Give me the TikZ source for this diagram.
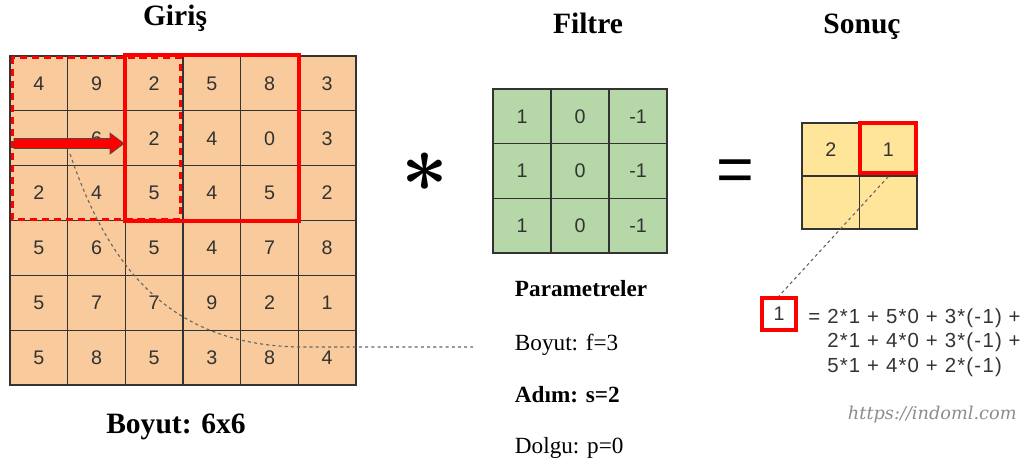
\documentclass[tikz,border=0pt]{standalone}
\usepackage{fontspec}
\setmainfont{Liberation Serif}
\newfontfamily\arial{Liberation Sans}
\newfontfamily\webfont{DejaVu Serif}
\usepackage{xcolor}
\usepackage{graphicx}
\usepackage{tikz}
\usetikzlibrary{positioning}

\definecolor{peach}{HTML}{F9CB9C}
\definecolor{leaf}{HTML}{B6D7A8}
\definecolor{sand}{HTML}{FFE599}
\definecolor{ink}{HTML}{333333}

\begin{document}
\begin{tikzpicture}[x=0.025cm,y=-0.025cm,
        cell/.style={draw=ink,line width=0.9pt,inner sep=0pt,text=ink,font=\arial\fontsize{14}{16}\selectfont},
        incell/.style={cell,fill=peach,minimum width=1.442cm,minimum height=1.37cm},
        fcell/.style={cell,fill=leaf,minimum width=1.45cm,minimum height=1.367cm},
        rcell/.style={cell,fill=sand,minimum width=1.437cm,minimum height=1.325cm},
        redline/.style={draw=red,line width=2.8pt},
        trail/.style={draw=black!60,line width=0.8pt,dash pattern=on 2.2pt off 2.2pt},
        title/.style={anchor=base,font=\fontsize{21}{24}\selectfont\bfseries},
        param/.style={anchor=base west,font=\fontsize{16.5}{19}\selectfont},
        eqn/.style={anchor=base west,text=ink,inner sep=0pt,
            font=\arial\fontsize{14.5}{16}\selectfont\addfontfeature{LetterSpace=6}}]
    \useasboundingbox (0,0) rectangle (1030,468);

    % input 6x6
    \foreach \row [count=\r] in {{4,9,2,5,8,3},{{},6,2,4,0,3},{2,4,5,4,5,2},{5,6,5,4,7,8},{5,7,7,9,2,1},{5,8,5,3,8,4}}
        \foreach \v [count=\c] in \row
            \node[incell] (g-\r-\c) at ({10+57.67*(\c-0.5)},{56+54.83*(\r-0.5)}) {\v};

    % filter 3x3
    \foreach \row [count=\r] in {{1,0,-1},{1,0,-1},{1,0,-1}}
        \foreach \v [count=\c] in \row
            \node[fcell] (f-\r-\c) at ({493+58*(\c-0.5)},{89+54.67*(\r-0.5)}) {\v};

    % output 2x2
    \foreach \row [count=\r] in {{2,1},{{},{}}}
        \foreach \v [count=\c] in \row
            \node[rcell] (r-\r-\c) at ({802+57.5*(\c-0.5)},{123+53*(\r-0.5)}) {\v};

    % windows
    \draw[red,line width=2pt,dash pattern=on 5pt off 3.5pt]
        ([shift={(3,2)}]g-1-1.north west) rectangle ([shift={(-3,-2)}]g-3-3.south east);
    \draw[redline] (g-1-3.north west) rectangle (g-3-5.south east);
    \draw[redline] ([shift={(1,1)}]r-1-2.north west) rectangle ([shift={(-2,-4)}]r-1-2.south east);

    % stride arrow
    \filldraw[fill=red,draw=black!70,line width=0.5pt]
        (14,138.5) -- (110,138.5) -- (110,133) -- (124,143.5) -- (110,154) -- (110,148.5) -- (14,148.5) -- cycle;

    % titles
    \node[title] (giris) at (175,25) {Giriş};
    \node[title] (filtre) at (588,33) {Filtre};
    \node[title] (sonuc) at (862,33) {Sonuç};
    \node[title] (boyut) at (176,433) {Boyut: 6x6};

    % operators
    \node[inner sep=0pt,font=\boldmath] (star) at (425,172) {\scalebox{5.8}{$\ast$}};
    \node[font=\arial\fontsize{46}{46}\selectfont,inner sep=0pt] (eq) at (735,176) {=};

    % parameters
    \node[param] (p1) at (510,296) {\bfseries Parametreler};
    \node[param] (p2) at (510,350) {Boyut: f=3};
    \node[param] (p3) at (510,402) {\bfseries Adım: s=2};
    \node[param] (p4) at (510,453) {Dolgu: p=0};

    % worked sum
    \node[draw=red,line width=2.8pt,inner sep=0pt,minimum width=0.85cm,minimum height=0.8cm,
          text=ink,font=\arial\fontsize{14}{16}\selectfont] (one) at (779,314) {1};
    \node[eqn] (eqsign) at (808,323) {=};
    \node[eqn] (eq1) at (827,323) {2*1 + 5*0 + 3*(-1) +};
    \node[eqn] (eq2) at (827,347) {2*1 + 4*0 + 3*(-1) +};
    \node[eqn] (eq3) at (827,372) {5*1 + 4*0 + 2*(-1)};

    % leader lines
    \coordinate (pick) at (70,154);
    \coordinate (lead) at (473,347);
    \draw[trail] (pick) .. controls (105,255) and (160,345) .. (300,347) -- (lead);
    \draw[trail] (r-1-2.south) -- (one.north);

    \node[anchor=base west,text=black!45,font=\webfont\itshape\fontsize{12.6}{14}\selectfont] (web) at (843,419) {https://indoml.com};
\end{tikzpicture}
\end{document}
